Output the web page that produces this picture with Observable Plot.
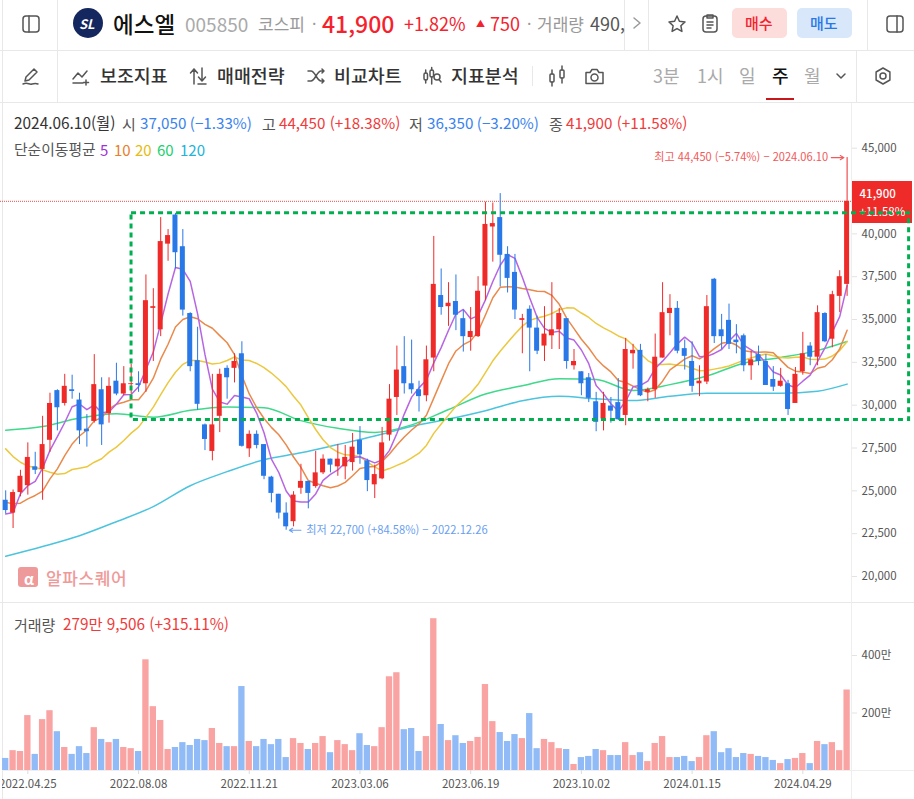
<!DOCTYPE html>
<html lang="ko">
<head>
<meta charset="utf-8">
<script src="https://cdn.jsdelivr.net/npm/d3@7"></script>
<script src="https://cdn.jsdelivr.net/npm/@observablehq/plot@0.6"></script>
<style>
html,body{margin:0;padding:0;background:#fff}
body{width:914px;height:799px;position:relative;overflow:hidden;font-family:"Noto Sans CJK KR","Noto Sans",sans-serif;color:#333}
.t{position:absolute;white-space:nowrap;line-height:1;transform:translateY(-50%)}
.l{position:absolute;background:#e8e8e8}
.ic{position:absolute;fill:none;stroke:#555;stroke-width:1.5;stroke-linecap:round;stroke-linejoin:round}
#price,#volume{position:absolute;left:0}
#price{top:103px}#volume{top:603px}
svg{display:block}
</style>
</head>
<body>
<div class="l" style="left:2px;top:0;width:1px;height:799px"></div>
<div class="l" style="left:0;top:50px;width:914px;height:1px"></div>
<div class="l" style="left:0;top:102px;width:914px;height:1px"></div>
<div class="l" style="left:57px;top:0;width:1px;height:102px"></div>
<div class="l" style="left:624px;top:0;width:1px;height:50px"></div>
<div class="l" style="left:648px;top:0;width:1px;height:50px"></div>
<div class="l" style="left:867px;top:0;width:1px;height:50px"></div>
<div class="l" style="left:856px;top:51px;width:1px;height:51px"></div>
<div class="l" style="left:532px;top:66px;width:1px;height:20px"></div>
<div class="l" style="left:0;top:602px;width:914px;height:1px"></div>
<div class="l" style="left:851px;top:103px;width:1px;height:696px;background:#eeeeee"></div>
<div class="l" style="left:0;top:770px;width:914px;height:1px;background:#eeeeee"></div>
<div class="l" style="left:852px;top:181px;width:60px;height:42px;background:#ef2b2a"></div>

<svg class="ic" style="left:21px;top:14px" width="20" height="20"><rect x="2" y="2" width="16" height="16" rx="3"/><path d="M8 2v16"/></svg>
<div style="position:absolute;left:73px;top:8px;width:30px;height:30px;border-radius:50%;background:#14275e"></div>
<div class="t" style="left:79px;top:23px;font-size:13px;font-weight:700;font-style:italic;color:#fff">SL</div>
<div class="t" style="left:113px;top:23px;font-size:22.5px;font-weight:500;color:#111">에스엘</div>
<div class="t" style="left:185px;top:23px;font-size:19px;color:#aaa">005850</div>
<div class="t" style="left:258px;top:23px;font-size:17px;color:#999">코스피</div>
<div class="t" style="left:312px;top:23px;font-size:16px;color:#999">·</div>
<div class="t" style="left:322px;top:23px;font-size:23px;font-weight:500;color:#f5222d">41,900</div>
<div class="t" style="left:404px;top:23px;font-size:18px;color:#f5222d">+1.82%</div>
<div class="t" style="left:476px;top:23px;font-size:9px;color:#f5222d">▲</div>
<div class="t" style="left:490px;top:23px;font-size:18px;color:#f5222d">750</div>
<div class="t" style="left:527px;top:23px;font-size:16px;color:#999">·</div>
<div class="t" style="left:537px;top:23px;font-size:17px;color:#999">거래량</div>
<div class="t" style="left:590px;top:23px;font-size:18px;color:#555">490,</div>
<svg class="ic" style="left:631px;top:16px;stroke:#999" width="12" height="14"><path d="M3 2l6 5-6 5"/></svg>
<svg class="ic" style="left:667px;top:14px" width="20" height="20"><path d="M10 2l2.4 5.2 5.6.7-4.1 3.9 1 5.6L10 14.6l-4.9 2.8 1-5.600L2 7.9l5.6-.7z"/></svg>
<svg class="ic" style="left:701px;top:13px" width="18" height="21"><rect x="2" y="3" width="14" height="16" rx="3"/><path d="M6 2h6v3H6zM6 9h6M6 12h6M6 15h4"/></svg>
<div style="position:absolute;left:732px;top:8px;width:55px;height:30px;border-radius:5px;background:#fddcdc"></div>
<div class="t" style="left:745px;top:22px;font-size:15px;font-weight:500;color:#f5222d">매수</div>
<div style="position:absolute;left:797px;top:8px;width:55px;height:30px;border-radius:5px;background:#d9e7fb"></div>
<div class="t" style="left:810px;top:22px;font-size:15px;font-weight:500;color:#2878e8">매도</div>
<svg class="ic" style="left:885px;top:14px" width="20" height="20"><rect x="2" y="2" width="16" height="16" rx="3"/><path d="M12 2v16"/></svg>

<svg class="ic" style="left:21px;top:66px" width="20" height="20"><path d="M13 3l3 3-8 8-4 1 1-4zM2 18c5-2 6 1 9 0s4-1 6 0"/></svg>
<svg class="ic" style="left:71px;top:66px" width="20" height="20"><path d="M2 13l5-6 4 4 5-6M2 17h10M15 14v5M12.500 16.500h5"/></svg>
<div class="t" style="left:100px;top:75px;font-size:18.4px;font-weight:500">보조지표</div>
<svg class="ic" style="left:188px;top:66px" width="20" height="20"><path d="M6 18V3M2.500 7L6 3l3.500 4M14 2v13M10.500 11l3.500 4 3.500-4M10 18h8"/></svg>
<div class="t" style="left:217px;top:75px;font-size:18.4px;font-weight:500">매매전략</div>
<svg class="ic" style="left:306px;top:66px" width="20" height="20"><path d="M2 5h3c4 0 6 10 10 10h3M2 15h3c4 0 6-10 10-10h3M16 3l2 2-2 2M16 13l2 2-2 2"/></svg>
<div class="t" style="left:334px;top:75px;font-size:18.4px;font-weight:500">비교차트</div>
<svg class="ic" style="left:422px;top:66px" width="20" height="20"><rect x="2" y="7" width="3.500" height="7" rx="1.500"/><path d="M3.700 4v3M3.700 14v3"/><rect x="8" y="4" width="3.500" height="7" rx="1.500"/><path d="M9.700 1.500V4M9.700 11v7"/><circle cx="15" cy="11" r="3"/><path d="M17 13.500l2 2.500"/></svg>
<div class="t" style="left:451px;top:75px;font-size:18.4px;font-weight:500">지표분석</div>
<svg class="ic" style="left:547px;top:65px" width="20" height="22"><rect x="3" y="9" width="4" height="8" rx="1"/><path d="M5 5v4M5 17v4"/><rect x="13" y="5" width="4" height="8" rx="1"/><path d="M15 1v4M15 13v5"/></svg>
<svg class="ic" style="left:584px;top:66px" width="21" height="20"><path d="M2 6.500h4l2-3h5l2 3h4v11H2z"/><circle cx="10.500" cy="11.500" r="3.500"/></svg>
<div class="t" style="left:653px;top:75px;font-size:18px;color:#aaa">3분</div>
<div class="t" style="left:697px;top:75px;font-size:18px;color:#aaa">1시</div>
<div class="t" style="left:739px;top:75px;font-size:18px;color:#aaa">일</div>
<div class="t" style="left:772px;top:75px;font-size:18px;font-weight:500;color:#111">주</div>
<div class="t" style="left:804px;top:75px;font-size:18px;color:#aaa">월</div>
<div style="position:absolute;left:766px;top:98px;width:28px;height:2px;background:#c8161d"></div>
<svg class="ic" style="left:835px;top:72px" width="12" height="8"><path d="M2 2l4 4 4-4"/></svg>
<svg class="ic" style="left:873px;top:66px" width="20" height="20"><path d="M10 2l6.900 4v8L10 18l-6.900-4V6z"/><circle cx="10" cy="10" r="3"/></svg>

<div class="t" style="left:14px;top:123px;font-size:15.4px">2024.06.10(월)</div>
<div class="t" style="left:122px;top:123px;font-size:15px;color:#555">시</div>
<div class="t" style="left:140px;top:123px;font-size:15.2px;color:#3a83ee">37,050 (−1.33%)</div>
<div class="t" style="left:262px;top:123px;font-size:15px;color:#555">고</div>
<div class="t" style="left:279px;top:123px;font-size:15.2px;color:#ef3b3b">44,450 (+18.38%)</div>
<div class="t" style="left:409px;top:123px;font-size:15px;color:#555">저</div>
<div class="t" style="left:427px;top:123px;font-size:15.2px;color:#3a83ee">36,350 (−3.20%)</div>
<div class="t" style="left:549px;top:123px;font-size:15px;color:#555">종</div>
<div class="t" style="left:566px;top:123px;font-size:15.2px;color:#ef3b3b">41,900 (+11.58%)</div>
<div class="t" style="left:14px;top:149px;font-size:14.800px;color:#555">단순이동평균</div>
<div class="t" style="left:100px;top:149px;font-size:15px;color:#a12fd6">5</div>
<div class="t" style="left:114px;top:149px;font-size:15px;color:#e8802b">10</div>
<div class="t" style="left:135px;top:149px;font-size:15px;color:#e6bb10">20</div>
<div class="t" style="left:157px;top:149px;font-size:15px;color:#22d06e">60</div>
<div class="t" style="left:180px;top:149px;font-size:15px;color:#22b3d8">120</div>

<div id="price"></div>
<div id="volume"></div>

<div style="position:absolute;left:18px;top:567px;width:20px;height:20px;border-radius:3px;background:#ef9a9a"></div>
<div class="t" style="left:24px;top:578px;font-size:15px;font-weight:700;color:#fff">α</div>
<div class="t" style="left:46px;top:577px;font-size:17px;font-weight:500;letter-spacing:.6px;color:#ef9a9a">알파스퀘어</div>
<div class="t" style="left:14px;top:624px;font-size:15px;color:#555">거래량</div>
<div class="t" style="left:63px;top:624px;font-size:15.3px;color:#ef3b3b">279만 9,506 (+315.11%)</div>
<div style="position:absolute;left:0;top:770px;width:2px;height:29px;background:#fff"></div>

<script>
const startDate = new Date(Date.UTC(2022, 3, 4));
const opens = [24450,23700,24900,25300,26400,26250,27950,30850,30100,30900,30300,28600,29050,30900,29500,31400,30650,31200,31250,31250,35650,34400,39400,41100,39250,35350,32600,28850,27300,29350,32150,32150,33000,27450,28300,27700,25800,24800,23700,23200,25150,25550,25250,26050,26850,26400,26400,26650,27950,26750,25350,25700,28250,30450,32250,31250,30900,30550,32750,36400,35750,36050,35050,33950,34000,36950,40400,40950,38800,37750,34950,35600,34500,33450,34050,34400,35050,32300,31950,31600,30200,29200,29950,30150,29400,33000,33200,30750,30900,32750,35350,35650,33300,32550,31250,31350,37350,34400,34950,33800,34050,32300,32950,32550,31500,31100,31250,30100,31950,33450,32800,35350,33850,36350,37050];
const highs = [25000,25050,26200,27800,27250,29350,30700,30900,31800,31750,30700,29450,32950,31600,31600,32450,32250,32400,31950,37600,36800,40950,40250,41200,40250,35400,34550,28900,31800,32100,32300,33000,33700,28500,28500,27700,25850,24800,24300,24950,26550,25550,27300,27100,26850,27700,27650,28350,28750,26850,26500,28700,31200,33450,34000,33800,31400,33450,39850,37950,37150,37600,35550,35700,37500,41850,41800,42350,39250,38800,35300,35800,35200,35750,37150,35650,35050,33250,31950,31850,30750,30750,30450,31550,33900,33550,33550,31000,34150,37150,36450,36050,33800,33700,32300,36400,37400,35300,35900,34700,34150,33150,33450,32950,32250,32150,31450,32200,34250,33650,35800,35400,36650,37850,44450];
const lows = [23650,22800,24650,24750,25950,24450,27250,28500,29950,30350,27700,27550,28950,27650,28950,30550,30550,30650,30750,30750,32550,34000,38400,37950,35200,31950,29700,27350,26750,28400,30350,31300,27550,26950,27450,25650,24300,23350,22700,22900,24800,23950,25150,25950,26050,25850,25650,26150,26550,24950,24550,25650,27900,29400,30650,30650,29600,30200,31950,35250,34600,34350,33100,33150,33950,36100,38350,36900,36550,35000,33000,31950,32950,32550,33250,33250,32100,32050,30550,30150,28450,28500,28950,29100,28800,32100,30500,30200,30400,32750,34050,33000,32050,30750,30500,31200,33600,33250,33250,33000,31950,31450,32300,31150,30800,31050,29400,30100,31750,32300,32300,33650,33350,35400,36350];
const closes = [23850,24900,25850,26950,26200,27700,30100,29850,31100,30800,28500,28450,31200,28850,31100,30650,31250,31250,31150,36100,35750,39550,39900,38900,35550,32250,30050,28000,28850,31800,31600,32550,27600,28300,27650,25850,24850,23700,22900,24750,25550,24850,26050,26850,26500,26850,26950,27550,27100,25600,25950,27800,30350,32050,31250,30900,30500,32650,37050,35700,35950,35250,34000,34300,36650,40550,40600,38750,37400,35550,35050,34500,33150,34150,34400,35350,32550,32550,31250,30400,29000,30100,29650,29150,33250,33200,30550,30900,32800,35400,35650,33150,32850,31100,31400,35750,34000,34000,33550,33650,32300,32650,32550,31150,31050,31400,29750,31800,33000,32800,35400,33700,36450,37500,41900];
const volumes = [42,69,66,191,56,177,208,135,80,56,83,59,149,108,97,108,80,76,66,385,222,174,73,80,97,87,108,104,146,94,83,83,292,101,83,108,90,108,45,111,94,73,94,118,62,104,90,69,128,87,83,149,326,340,142,146,66,118,528,160,104,121,94,101,115,299,170,132,101,125,111,198,76,108,97,76,73,21,45,49,73,69,52,52,97,52,62,31,94,118,45,45,49,31,45,121,135,62,76,45,59,56,49,45,35,24,38,42,59,24,101,90,97,69,280];
const ma5 = [23650,23730,24830,25300,25550,26320,27360,28160,28990,29910,30070,29740,30010,29560,29620,30050,30610,30620,31080,32080,33100,34760,36490,38040,37930,37230,35330,32950,30940,30190,30060,30560,30480,30370,29540,28390,26850,26070,24990,24410,24350,24350,24820,25610,25960,26220,26640,26940,26990,26810,26630,26800,27360,28350,29480,30470,31010,31470,32470,33360,34370,35320,35590,35040,35230,36150,37220,38170,38790,38570,37470,36250,35130,34480,34250,34310,33920,33800,33220,32420,31150,30660,30080,29660,30230,31070,31160,31410,32140,32570,33060,33580,33970,33630,32830,32850,33020,33250,33740,34190,33500,33230,32940,32460,31940,31760,31180,31030,31400,31750,32550,33340,34270,35170,36990];
const ma10 = [24340,24240,24280,24530,24730,24980,25700,26280,27060,27730,28200,28550,29085,29275,29765,30060,30175,30315,30320,30850,31575,32685,33555,34560,35005,35165,35045,34720,34490,34060,33645,32945,31715,30655,29865,29225,28705,28275,27680,26975,26370,25600,25445,25300,25185,25285,25495,25880,26300,26385,26425,26720,27150,27670,28145,28550,28905,29415,30410,31420,32420,33165,33530,33755,34295,35260,36270,36880,36915,36900,36810,36735,36650,36635,36410,35890,35085,34465,33850,33335,32730,32290,31940,31440,31325,31110,30910,30745,30900,31400,32065,32370,32690,32885,32700,32955,33300,33610,33685,33510,33175,33125,33095,33100,33065,32630,32205,31985,31930,31845,32155,32260,32650,33285,34370];
const ma20 = [27450,27000,26670,26440,26380,26225,26090,25970,26010,26245,26320,26400,26670,26870,27260,27550,27940,28370,28720,29290,29890,30620,31320,31920,32385,32610,32610,32520,32405,32455,32610,32815,32635,32610,32435,32195,31875,31500,31085,30520,30010,29270,28580,27980,27525,27255,27100,27080,26990,26680,26400,26160,26300,26485,26665,26920,27200,27650,28355,28900,29420,29940,30340,30710,31220,31905,32590,33150,33660,34160,34615,34950,35090,35195,35350,35575,35680,35670,35380,35120,34770,34510,34295,34040,33870,33500,33000,32605,32375,32370,32400,32330,32315,32160,32010,32030,32105,32180,32290,32455,32620,32750,32890,32990,32880,32790,32750,32800,32810,32680,32665,32690,32870,33190,33720];
const maWeeks = [0,5,10,15,20,25,30,35,40,45,50,55,60,65,70,75,80,85,90,95,100,105,110,114];
const ma60 = [28540,28750,29250,29500,29300,29700,29900,29850,29100,28650,28410,28850,29750,30650,31130,31550,31500,30860,31200,31700,32450,32780,33200,33720];
const ma120 = [21180,21750,22380,23200,24080,25300,26120,26820,27220,27700,28200,28770,29190,29680,30260,30520,30370,30270,30520,30690,30700,30700,30820,31230];
const priceTicks = [20000,22500,25000,27500,30000,32500,35000,37500,40000,45000];
const volumeTicks = [200,400];
const axisDates = ["2022-04-25","2022-08-08","2022-11-21","2023-03-06","2023-06-19","2023-10-02","2024-01-15","2024-04-29"];
const maColors = ["#b765e3","#e98a4c","#ecc83f","#3fd98b","#4cc4de"];
const boxWeeks = [17.05,122.4];
const boxPrices = [29130,41200];
const lastClose = 41900;
const lowIndex = 38;
const highIndex = 114;

const RED = "#ef2b2a", BLUE = "#2878e8", PINK = "#f9a3a3", SKY = "#91bbf6";
const FONT = "'Noto Sans CJK KR','Noto Sans',sans-serif";
const wk = i => new Date(+startDate + i * 7 * 864e5);
const hrs = (d, h) => new Date(+d + h * 36e5);
const candles = opens.map((o, i) => ({date: wk(i), o, h: highs[i], l: lows[i], c: closes[i], v: volumes[i], up: closes[i] >= o}));
const line = (vals, idx) => vals.map((v, i) => ({date: wk(idx ? idx[i] : i), v}));
const xScale = {type: "utc", domain: [wk(0), wk(114)], range: [5.2, 846.6]};

const pricePlot = Plot.plot({
  width: 914, height: 497, marginLeft: 0, marginRight: 63, marginTop: 0, marginBottom: 0,
  style: {background: "transparent", fontFamily: FONT, overflow: "visible"},
  x: {...xScale, axis: null},
  y: {domain: [20000, 45000], range: [473, 44.7], axis: null},
  marks: [
    Plot.axisY({anchor: "right", label: null, ticks: priceTicks, tickFormat: d3.format(","), tickSize: 5, tickPadding: 5, stroke: "#e3e3e3", fill: "#555", fontSize: 11.5}),
    Plot.ruleY([lastClose], {stroke: "#e05050", strokeWidth: 1, strokeDasharray: "1,1"}),
    ...[[ma120, maWeeks, 4, "monotone-x"], [ma60, maWeeks, 3, "monotone-x"], [ma20, null, 2, "linear"], [ma10, null, 1, "linear"], [ma5, null, 0, "linear"]].map(([vals, idx, c, curve]) =>
      Plot.line(line(vals, idx), {x: "date", y: "v", stroke: maColors[c], strokeWidth: 1.5, curve})),
    Plot.ruleX(candles, {x: "date", y1: "l", y2: "h", stroke: d => d.up ? RED : BLUE, strokeWidth: 1}),
    Plot.rect(candles, {x1: d => hrs(d.date, -57), x2: d => hrs(d.date, 57), y1: "o", y2: "c", fill: d => d.up ? RED : BLUE}),
    Plot.text(candles.filter((d, i) => i === highIndex), {x: "date", y: "h", dx: -19, text: d => `최고 ${d3.format(",")(d.h)} (−5.74%) − 2024.06.10`, textAnchor: "end", fill: "#f05a5a", fontSize: 11.1}),
    Plot.arrow(candles.filter((d, i) => i === highIndex), {x1: d => hrs(d.date, -15 * 24), x2: d => hrs(d.date, -3 * 24), y: "h", stroke: "#f05a5a", strokeWidth: 1.1, headLength: 8, bend: 0}),
    Plot.text(candles.filter((d, i) => i === lowIndex), {x: "date", y: "l", dx: 20, text: d => `최저 ${d3.format(",")(d.l)} (+84.58%) − 2022.12.26`, textAnchor: "start", fill: "#6a9ff0", fontSize: 11.2}),
    Plot.arrow(candles.filter((d, i) => i === lowIndex), {x1: d => hrs(d.date, 14 * 24), x2: d => hrs(d.date, 3 * 24), y: "l", stroke: "#6a9ff0", strokeWidth: 1.1, headLength: 8, bend: 0}),
    Plot.text([lastClose], {x: () => wk(114.74), y: d => d, dx: 7, dy: -7, text: d => d3.format(",")(d), textAnchor: "start", fill: "#fff", fontSize: 11.5, fontWeight: 500}),
    Plot.text([lastClose], {x: () => wk(114.74), y: d => d, dx: 7, dy: 11, text: () => "+11.58%", textAnchor: "start", fill: "#fff", fontSize: 11.5}),
    Plot.rect([0], {x1: () => wk(boxWeeks[0]), x2: () => wk(boxWeeks[1]), y1: () => boxPrices[0], y2: () => boxPrices[1], fill: "none", stroke: "#00b050", strokeWidth: 3, strokeDasharray: "5,4"})
  ]
});
document.getElementById("price").append(pricePlot);

const volumePlot = Plot.plot({
  width: 914, height: 196, marginLeft: 0, marginRight: 63, marginTop: 0, marginBottom: 29,
  style: {background: "transparent", fontFamily: FONT, overflow: "visible"},
  x: {...xScale, axis: null},
  y: {domain: [0, 400], range: [167, 52], axis: null},
  marks: [
    Plot.rectY(candles, {x1: d => hrs(d.date, -72), x2: d => hrs(d.date, 72), y: "v", fill: d => d.up ? PINK : SKY}),
    Plot.axisY({anchor: "right", label: null, ticks: volumeTicks, tickFormat: d => d + "만", tickSize: 5, tickPadding: 5, stroke: "#e3e3e3", fill: "#555", fontSize: 11.5}),
    Plot.axisX({anchor: "bottom", label: null, ticks: axisDates.map(d => new Date(d + "T00:00Z")), tickFormat: d3.utcFormat("%Y.%m.%d"), tickSize: 4, tickPadding: 5, stroke: "#dddddd", fill: "#555", fontSize: 11.5})
  ]
});
document.getElementById("volume").append(volumePlot);
</script>
</body>
</html>
